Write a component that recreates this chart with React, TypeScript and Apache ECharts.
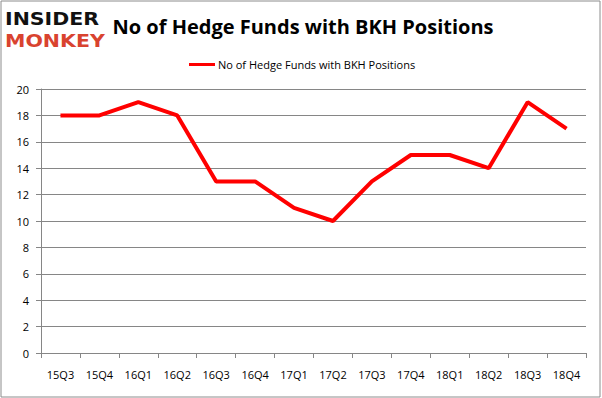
import React, { useEffect, useRef } from "react";
import * as echarts from "echarts";

const categories = ["15Q3", "15Q4", "16Q1", "16Q2", "16Q3", "16Q4", "17Q1", "17Q2", "17Q3", "17Q4", "18Q1", "18Q2", "18Q3", "18Q4"];
const values = [18, 18, 19, 18, 13, 13, 11, 10, 13, 15, 15, 14, 19, 17];
const seriesName = "No of Hedge Funds with BKH Positions";
const titleText = "No of Hedge Funds with BKH Positions";

export default function App() {
  const ref = useRef<HTMLDivElement>(null);
  useEffect(() => {
    const chart = echarts.init(ref.current!, null, { renderer: "svg" });
    chart.setOption({
      animation: false,
      backgroundColor: "#ffffff",
      title: {
        text: titleText,
        left: 298,
        textAlign: "center",
        top: 11,
        textStyle: { fontFamily: "Open Sans", fontWeight: "bold", fontSize: 20, color: "#000" },
      },
      legend: {
        top: 54,
        left: 184,
        itemWidth: 26,
        itemHeight: 3,
        itemGap: 4,
        icon: "rect",
        textStyle: { fontFamily: "Open Sans", fontSize: 11, color: "#000", padding: [0, 0, 0, -2] },
        data: [seriesName],
      },
      graphic: [
        { type: "rect", shape: { x: 1, y: 1, width: 599, height: 396 }, style: { fill: "none", stroke: "#8c8c8c", lineWidth: 1 }, silent: true },
        { type: "text", x: 5, y: 9, scaleX: 1.14, style: { text: "INSIDER", fontFamily: "DejaVu Sans", fontWeight: "900", fontSize: 18, lineHeight: 20, fill: "#111" } },
        { type: "text", x: 5, y: 31, scaleX: 1.14, style: { text: "MONKEY", fontFamily: "DejaVu Sans", fontWeight: "900", fontSize: 18, lineHeight: 20, fill: "#d9432f" } },
      ],
      grid: { left: 41, right: 16, top: 89, bottom: 45 },
      xAxis: {
        type: "category",
        data: categories,
        boundaryGap: true,
        axisLine: { lineStyle: { color: "#868686" } },
        axisTick: { show: true, length: 5, alignWithLabel: false, lineStyle: { color: "#868686" } },
        axisLabel: { fontFamily: "Open Sans", fontSize: 11, color: "#000", margin: 16, interval: 0 },
      },
      yAxis: {
        type: "value",
        min: 0,
        max: 20,
        interval: 2,
        axisLine: { show: true, lineStyle: { color: "#868686" } },
        axisTick: { show: true, length: 5, lineStyle: { color: "#868686" } },
        splitLine: { lineStyle: { color: "#868686" } },
        axisLabel: { fontFamily: "Open Sans", fontSize: 11, color: "#000", margin: 12 },
      },
      series: [
        {
          name: seriesName,
          type: "line",
          data: values,
          symbol: "none",
          lineStyle: { color: "#ff0000", width: 4 },
          itemStyle: { color: "#ff0000" },
        },
      ],
    });
    return () => chart.dispose();
  }, []);
  return <div ref={ref} style={{ width: 602, height: 398, position: "absolute", left: 0, top: 0 }} />;
}
